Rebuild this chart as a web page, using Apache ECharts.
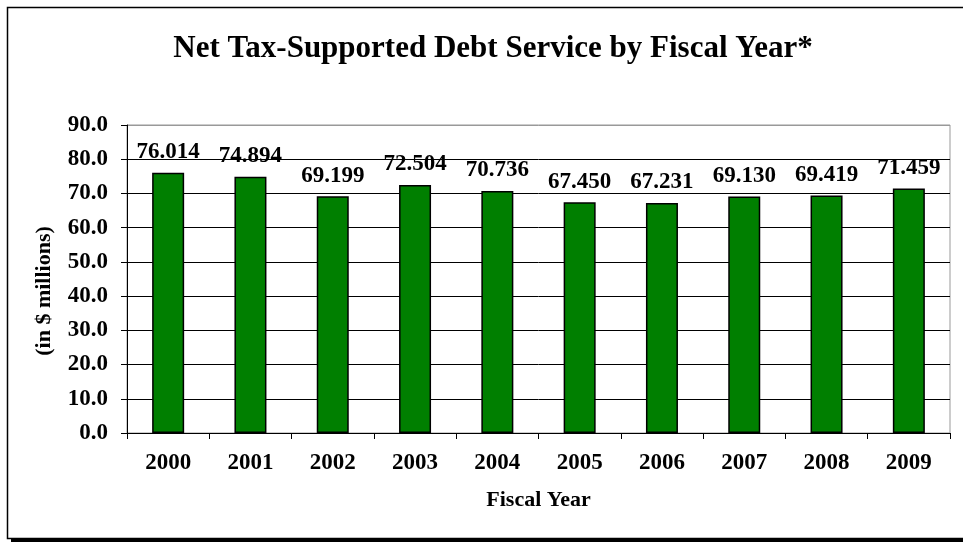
<html>
<head>
    <meta charset="utf-8">
    <script src="https://cdn.jsdelivr.net/npm/echarts@6/dist/echarts.min.js"></script>
    <style>
        html, body { margin: 0; padding: 0; background: #fff; }
        #main { width: 963px; height: 542px; }
    </style>
</head>
<body>
<div id="main"></div>
<script>
    // fiscal years and net tax-supported debt service ($ millions)
    var years = ['2000', '2001', '2002', '2003', '2004', '2005', '2006', '2007', '2008', '2009'];
    var debtService = [76.014, 74.894, 69.199, 72.504, 70.736, 67.450, 67.231, 69.130, 69.419, 71.459];

    var serif = 'Liberation Serif';

    var chart = echarts.init(document.getElementById('main'));

    chart.setOption({
        animation: false,
        backgroundColor: '#fff',
        title: {
            text: 'Net Tax-Supported Debt Service by Fiscal Year*',
            left: 488,
            textAlign: 'center',
            top: 28,
            textStyle: {
                fontFamily: serif,
                fontWeight: 'bold',
                fontSize: 31,
                color: '#000'
            }
        },
        // outer frame, cut off at right like the original
        graphic: [
            {
                type: 'rect',
                shape: {x: 7.5, y: 7.5, width: 970, height: 531},
                style: {fill: null, stroke: '#000', lineWidth: 1.5},
                silent: true
            },
            {
                type: 'rect',
                shape: {x: 11, y: 538, width: 960, height: 5},
                style: {fill: '#000'},
                silent: true
            }
        ],
        grid: {
            left: 127,
            right: 13,
            top: 125,
            bottom: 109,
            show: true,
            backgroundColor: '#fff',
            borderColor: '#999',
            borderWidth: 1
        },
        xAxis: {
            type: 'category',
            data: years,
            name: 'Fiscal Year',
            nameLocation: 'middle',
            nameGap: 56,
            nameTextStyle: {
                fontFamily: serif,
                fontWeight: 'bold',
                fontSize: 22,
                color: '#000'
            },
            axisLine: {lineStyle: {color: '#000', width: 1}},
            axisTick: {show: true, length: 6, lineStyle: {color: '#000'}},
            axisLabel: {
                margin: 19,
                fontFamily: serif,
                fontWeight: 'bold',
                fontSize: 23,
                color: '#000'
            }
        },
        yAxis: {
            type: 'value',
            min: 0,
            max: 90,
            interval: 10,
            name: '(in $ millions)',
            nameLocation: 'middle',
            nameGap: 72,
            nameTextStyle: {
                fontFamily: serif,
                fontWeight: 'bold',
                fontSize: 22,
                color: '#000',
                padding: [0, 24, 0, 0]
            },
            axisLine: {show: true, lineStyle: {color: '#000', width: 1}},
            axisTick: {show: true, length: 6, lineStyle: {color: '#000'}},
            splitLine: {
                show: true,
                lineStyle: {
                    color: ['#000', '#000', '#000', '#000', '#000', '#000', '#000', '#000', '#000', '#999'],
                    width: 1
                }
            },
            axisLabel: {
                margin: 19,
                fontFamily: serif,
                fontWeight: 'bold',
                fontSize: 23,
                color: '#000',
                formatter: function (v) {
                    return v.toFixed(1);
                }
            }
        },
        series: [
            {
                type: 'bar',
                data: debtService,
                barWidth: 32,
                itemStyle: {
                    color: '#007f00',
                    borderColor: '#000',
                    borderWidth: 1.5
                },
                label: {
                    show: true,
                    position: 'top',
                    distance: 9,
                    fontFamily: serif,
                    fontWeight: 'bold',
                    fontSize: 23,
                    color: '#000',
                    formatter: function (p) {
                        return p.value.toFixed(3);
                    }
                }
            }
        ]
    });
</script>
</body>
</html>
